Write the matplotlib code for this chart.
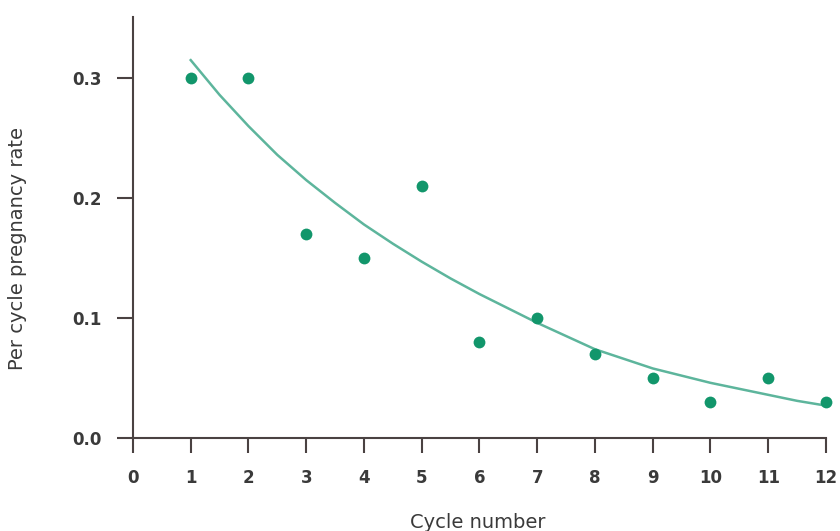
import matplotlib
matplotlib.use("Agg")
import matplotlib.pyplot as plt

# observed per cycle pregnancy rate
cycles = [1, 2, 3, 4, 5, 6, 7, 8, 9, 10, 11, 12]
rates = [0.30, 0.30, 0.17, 0.15, 0.21, 0.08, 0.10, 0.07, 0.05, 0.03, 0.05, 0.03]

# fitted curve
fit_x = [1, 1.5, 2, 2.5, 3, 3.5, 4, 4.5, 5, 5.5, 6, 6.5,
         7, 7.5, 8, 8.5, 9, 9.5, 10, 10.5, 11, 11.5, 12]
fit_y = [0.315, 0.286, 0.260, 0.236, 0.215, 0.196, 0.178, 0.162, 0.147, 0.133, 0.120, 0.108,
         0.096, 0.085, 0.074, 0.066, 0.058, 0.052, 0.046, 0.041, 0.036, 0.031, 0.027]

xticks = list(range(0, 13))
yticks = [0.0, 0.1, 0.2, 0.3]

axcol = '#4a4242'
txtcol = '#3a3a3a'

fig = plt.figure(figsize=(8.4, 5.31), dpi=100)
ax = fig.add_axes([0.1583, 0.1751, 0.825, 0.793])

ax.plot(fit_x, fit_y, '-', color='#5db59c', lw=1.8, zorder=2)
ax.plot(cycles, rates, 'o', color='#12966b', ms=8.5, mec='none', zorder=3, clip_on=False)

ax.set_xlim(0, 12)
ax.set_ylim(0, 0.351)
ax.set_xticks(xticks)
ax.set_yticks(yticks)
ax.set_yticklabels(['%.1f' % v for v in yticks])

for s in ['top', 'right']:
    ax.spines[s].set_visible(False)
for s in ['left', 'bottom']:
    ax.spines[s].set_color(axcol)
    ax.spines[s].set_linewidth(1.5)

ax.tick_params(axis='y', length=11.5, width=1.5, color=axcol, pad=11,
               labelsize=12, labelcolor=txtcol)
ax.tick_params(axis='x', length=11, width=1.5, color=axcol, pad=11,
               labelsize=12, labelcolor=txtcol)
for lab in ax.get_xticklabels() + ax.get_yticklabels():
    lab.set_fontweight('bold')

ax.set_xlabel('Cycle number', fontsize=14, color=txtcol)
ax.set_ylabel('Per cycle pregnancy rate', fontsize=14, color=txtcol)
ax.xaxis.set_label_coords(0.498, -0.178)
ax.yaxis.set_label_coords(-0.153, 0.451)

fig.savefig('out.png', dpi=100)
